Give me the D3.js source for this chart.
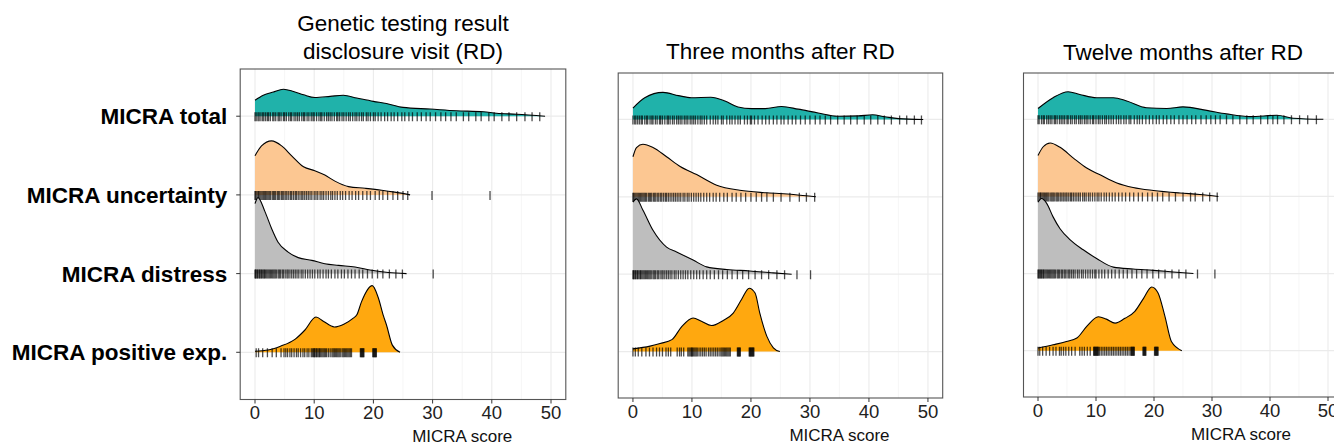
<!DOCTYPE html>
<html>
<head>
<meta charset="utf-8">
<script src="https://cdn.jsdelivr.net/npm/d3@7"></script>
<style>
  html, body { margin: 0; padding: 0; background: #fff; }
  svg { display: block; font-family: "Liberation Sans", Arial, sans-serif; }
</style>
</head>
<body>
<svg id="chart" width="1334" height="445"></svg>
<script>
// ---------------- DATA ----------------
const categories = ["MICRA total", "MICRA uncertainty", "MICRA distress", "MICRA positive exp."];
const panelTitles = [["Genetic testing result", "disclosure visit (RD)"], ["Three months after RD"], ["Twelve months after RD"]];
const xTicks = [0, 10, 20, 30, 40, 50];
const xMinorTicks = [5, 15, 25, 35, 45];
const xAxisTitle = "MICRA score";
const seriesColors = ["#20B2AA", "#FCC792", "#BEBEBE", "#FFA80F"];

// density curves [score, density]
const densRD_total = [[0,0.029],[1.4,0.038],[3.1,0.044],[4.8,0.049],[6.5,0.045],[8.2,0.039],[10.1,0.034],[12.7,0.036],[14.9,0.038],[17.2,0.033],[20,0.027],[22.2,0.023],[25,0.016],[29.6,0.013],[34,0.010],[38.6,0.008],[40.8,0.0055],[44.2,0.0036],[49,0]];
const densRD_uncert = [[0,0.071],[1.1,0.089],[2.8,0.098],[4.5,0.089],[6.2,0.071],[8.2,0.051],[10.1,0.044],[11.8,0.036],[13.5,0.025],[15.8,0.015],[18.6,0.012],[21.4,0.0085],[23.6,0.005],[26.2,0]];
const densRD_distress = [[0,0.127],[0.5,0.138],[1.7,0.112],[2.8,0.082],[3.9,0.057],[5.6,0.039],[7.3,0.029],[9.6,0.024],[11.8,0.018],[14.1,0.015],[16.9,0.012],[19.7,0.006],[22.5,0.002],[25.6,0]];
const densRD_positive = [[0,0.002],[2.2,0.004],[4.3,0.011],[6.8,0.024],[8.4,0.040],[10.3,0.064],[11.6,0.056],[13.4,0.046],[15,0.051],[16.6,0.062],[17.2,0.068],[18,0.092],[19.8,0.121],[20.8,0.10],[21.7,0.066],[22.2,0.05],[23.2,0.013],[24.5,0]];

const dens3M_total = [[0,0.021],[2,0.040],[5.1,0.050],[7.7,0.044],[9.9,0.040],[13.2,0.041],[15.6,0.034],[17.8,0.023],[20.1,0.020],[22.4,0.020],[25.2,0.024],[28,0.019],[31.4,0.012],[34.7,0.006],[38.2,0.0065],[40.6,0.0085],[42.7,0.005],[45,0.0015],[49.2,0]];
const dens3M_uncert = [[0,0.074],[0.6,0.091],[1.7,0.097],[3.4,0.091],[5.7,0.074],[8,0.056],[10.8,0.041],[14.2,0.0215],[18.1,0.012],[22.7,0.0074],[27.2,0.0044],[31,0]];
const dens3M_distress = [[0,0.133],[0.6,0.139],[1.7,0.118],[3.4,0.081],[5.7,0.050],[7.4,0.041],[10.2,0.026],[12.5,0.0135],[15.9,0.0086],[19.8,0.006],[23.8,0.0024],[26.9,0]];
const dens3M_positive = [[0,0.005],[2.9,0.010],[4.6,0.015],[6.6,0.022],[8.3,0.0465],[10.2,0.062],[11.6,0.056],[13.3,0.048],[15.3,0.0575],[17,0.071],[18.4,0.096],[19.7,0.117],[20.7,0.108],[21.5,0.071],[22.7,0.028],[23.8,0.007],[24.9,0]];

const dens12M_total = [[0,0.020],[2.6,0.040],[5.2,0.051],[7.2,0.046],[10.1,0.040],[13,0.040],[15.3,0.034],[18.7,0.0215],[22.2,0.020],[25,0.023],[29.1,0.0165],[32.5,0.010],[36.6,0.005],[41.2,0.0074],[44,0.002],[49.2,0]];
const dens12M_uncert = [[0,0.076],[0.9,0.092],[2.1,0.099],[3.8,0.091],[6.1,0.071],[8.4,0.0525],[10.7,0.040],[13.6,0.025],[16.4,0.0166],[19.9,0.011],[24.5,0.0063],[27.9,0.0037],[31.1,0]];
const dens12M_distress = [[0,0.132],[0.6,0.139],[1.5,0.130],[2.6,0.105],[3.8,0.083],[5.5,0.063],[7.8,0.044],[10.1,0.028],[13,0.012],[16.4,0.0085],[19.9,0.006],[23.3,0.003],[26.8,0]];
const dens12M_positive = [[0,0.005],[2.6,0.011],[4.9,0.017],[6.7,0.0235],[8.4,0.045],[10.4,0.063],[11.8,0.0585],[13.3,0.051],[15,0.060],[16.7,0.073],[18.2,0.097],[19.6,0.118],[20.7,0.107],[21.9,0.063],[23,0.017],[24.8,0]];

// individual scores shown as rug ticks
const rugRD_total = [0,0.2,0.5,0.7,1,1.3,1.5,1.8,2.1,2.3,2.6,3,3.2,3.5,3.9,4.1,4.4,4.8,5,5.3,5.7,6,6.2,6.6,6.9,7.2,7.5,7.9,8.2,8.4,8.8,9.1,9.5,9.8,10,10.4,10.8,11.1,11.3,11.7,12.1,12.4,12.7,13,13.4,13.8,14,14.3,14.7,15,15.4,15.8,16.1,16.5,16.9,17.2,17.6,18,18.3,18.8,19.1,19.5,20,20.3,20.8,21.3,21.9,22.4,23,23.5,24.1,24.8,25.3,26,26.6,27.4,28.1,28.9,29.6,30.5,31.4,32.2,33.1,34,35.2,36.1,37.3,38.2,39.5,40.4,41.7,42.9,44.2,45.6,46.8,48.1];
const rugRD_uncert = [0,0.1,0.3,0.5,0.6,0.8,1,1.2,1.4,1.6,1.8,2,2.2,2.4,2.6,2.9,3.1,3.3,3.5,3.8,4,4.2,4.5,4.7,4.9,5.2,5.4,5.7,6,6.2,6.5,6.8,7,7.3,7.6,7.9,8.1,8.4,8.7,9,9.3,9.6,10,10.3,10.6,11,11.3,11.6,12,12.4,12.8,13.1,13.5,13.9,14.4,14.8,15.3,15.9,16.4,17,17.5,18.2,18.9,19.5,20.3,21,21.6,22.4,23.3,24.1,25,25.8,29.9,39.7];
const rugRD_distress = [0,0.1,0.2,0.4,0.5,0.7,0.8,1,1.1,1.3,1.5,1.6,1.8,2,2.2,2.4,2.6,2.8,3,3.2,3.4,3.6,3.9,4.1,4.3,4.6,4.8,5.1,5.4,5.6,5.9,6.2,6.5,6.8,7.1,7.4,7.8,8.1,8.5,8.9,9.3,9.7,10.1,10.6,11,11.5,12,12.4,12.9,13.5,14,14.6,15.1,15.7,16.3,16.9,17.6,18.2,19,19.8,20.7,21.6,22.7,23.8,24.9,30.1];
const rugRD_positive = [0.2,0.6,1.3,2.1,2.9,3.6,4.4,4.9,5.2,5.5,5.9,6.2,6.6,7,7.3,7.7,8.1,8.4,8.8,9.1,9.5,9.7,9.9,10,10.1,10.3,10.4,10.6,10.8,10.9,11.1,11.3,11.5,11.7,11.9,12.1,12.4,12.7,13,13.2,13.4,13.6,13.8,14,14.2,14.4,14.7,14.9,15.1,15.3,15.5,15.7,15.9,16.1,16.3,17.8,17.9,18,18.1,18.2,18.3,18.4,19.9,20,20.1,20.2,20.3,20.4,20.5];

const rug3M_total = [0,0.3,0.5,0.8,1.1,1.4,1.6,2,2.3,2.5,2.9,3.2,3.4,3.8,4.1,4.5,4.7,5,5.4,5.8,6,6.3,6.7,7,7.4,7.7,8,8.3,8.7,9,9.3,9.7,10,10.3,10.6,11,11.4,11.7,12.1,12.5,13.1,13.6,14,14.4,15,15.3,15.9,16.4,16.8,17.3,17.8,18.2,18.9,19.4,19.9,20.1,20.6,21.2,21.9,22.5,23.1,23.8,24.4,25.1,25.6,26.3,27,27.6,28.4,29.2,30,30.9,31.7,32.6,33.5,34.7,35.8,36.9,38,39.2,40.3,41.5,42.6,43.8,45.2,46.4,47.7,48.9];
const rug3M_uncert = [0,0.1,0.3,0.5,0.7,0.9,1.1,1.3,1.5,1.7,1.9,2.1,2.3,2.6,2.8,3,3.2,3.5,3.7,3.9,4.2,4.4,4.7,4.9,5.2,5.5,5.7,6,6.3,6.6,6.9,7.2,7.5,7.8,8.1,8.5,8.8,9.2,9.5,9.9,10.3,10.7,11.1,11.5,12,12.5,13,13.6,14.1,14.7,15.4,16,16.8,17.5,18.3,19.1,20,20.9,21.8,22.7,23.8,25.1,26.6,28.2,29.4,30.8];
const rug3M_distress = [0,0.1,0.2,0.4,0.5,0.7,0.8,1,1.2,1.3,1.5,1.7,1.9,2.1,2.3,2.5,2.7,2.9,3.1,3.4,3.6,3.8,4.1,4.3,4.6,4.9,5.1,5.4,5.7,6,6.3,6.6,7,7.3,7.7,8.1,8.5,8.9,9.3,9.8,10.3,10.8,11.3,11.9,12.5,13.1,13.8,14.5,15.2,16,16.8,17.7,18.6,19.6,20.7,21.8,23,24.4,25.7,27.8,30.1];
const rug3M_positive = [0,0.4,0.9,1.5,2.2,2.8,3.4,4,4.5,5,5.6,6,6.4,7.5,7.9,8.2,8.6,9.3,9.5,9.7,9.9,10,10.1,10.3,10.5,10.7,10.9,11.2,11.5,11.8,12.1,12.4,12.8,13.1,13.4,13.7,14,14.3,14.6,14.9,15.1,15.3,15.5,15.7,15.9,16.1,16.3,16.5,17.7,17.8,17.9,18,18.1,18.2,19.7,19.8,19.9,20,20.1,20.2,20.3,20.4,20.5];

const rug12M_total = [0,0.2,0.6,0.9,1.1,1.5,1.8,2.1,2.4,2.8,3,3.3,3.7,4,4.3,4.6,5,5.2,5.6,5.9,6.3,6.6,7,7.3,7.6,8,8.3,8.6,9,9.4,9.6,10,10.4,10.7,11.1,11.5,11.8,12.2,12.6,13,13.5,13.9,14.3,14.8,15.2,15.7,16,16.6,17.1,17.5,18,18.6,19.2,19.8,20.4,20.9,21.6,22.2,22.9,23.5,24.3,25,25.7,26.5,27.2,28.1,29,29.8,30.6,31.4,32.5,33.6,34.8,36,37.1,38.4,39.6,40.5,41.3,42.4,43.7,45.1,46.5,48];
const rug12M_uncert = [0,0.2,0.4,0.5,0.7,0.9,1.1,1.3,1.5,1.7,1.9,2.2,2.4,2.6,2.8,3.1,3.3,3.5,3.8,4,4.3,4.5,4.8,5,5.3,5.6,5.8,6.1,6.4,6.7,7,7.3,7.7,8,8.3,8.7,9,9.4,9.8,10.2,10.5,10.9,11.4,11.8,12.3,12.8,13.3,13.9,14.5,15.1,15.8,16.5,17.3,18,18.9,19.7,20.6,21.5,22.6,23.7,25,26.3,27.1,28.4,29.6,30.9];
const rug12M_distress = [0,0.1,0.3,0.4,0.6,0.7,0.9,1,1.2,1.4,1.6,1.8,2,2.2,2.4,2.6,2.8,3,3.3,3.5,3.7,4,4.2,4.5,4.7,5,5.3,5.5,5.8,6.1,6.4,6.8,7.1,7.5,7.8,8.2,8.6,9,9.4,9.8,10,10.5,11,11.5,12.1,12.7,13.3,14,14.7,15.4,16.2,17,17.9,18.8,19.8,20.8,21.9,23.1,24.3,25.5,27.5,30.5];
const rug12M_positive = [0,0.3,0.8,1.4,2,2.6,3.1,3.7,4,4.4,4.8,5.3,5.8,6.4,7.2,7.6,8,8.5,9,9.6,9.7,9.8,9.9,10,10.1,10.2,10.3,10.4,10.6,10.9,11.2,11.5,11.8,12.1,12.4,12.7,13,13.3,13.6,13.9,14.2,14.5,14.8,15.1,15.4,15.7,16,16.1,16.2,16.3,16.4,16.5,16.6,18.1,18.2,18.3,18.4,18.5,18.6,20.1,20.2,20.3,20.4,20.5,20.6,20.7];

// ---------------- LAYOUT ----------------
const panels = [
  { left: 240.2, right: 565.8, top: 69, bottom: 399.5, titleY: [31, 59], yAxis: true,
    dens: [densRD_total, densRD_uncert, densRD_distress, densRD_positive],
    rugs: [rugRD_total, rugRD_uncert, rugRD_distress, rugRD_positive] },
  { left: 618.2, right: 942.7, top: 73, bottom: 398, titleY: [59], yAxis: false,
    dens: [dens3M_total, dens3M_uncert, dens3M_distress, dens3M_positive],
    rugs: [rug3M_total, rug3M_uncert, rug3M_distress, rug3M_positive] },
  { left: 1023.5, right: 1342.5, top: 73, bottom: 397, titleY: [60], yAxis: false,
    dens: [dens12M_total, dens12M_uncert, dens12M_distress, dens12M_positive],
    rugs: [rug12M_total, rug12M_uncert, rug12M_distress, rug12M_positive] }
];

const svg = d3.select("#chart");

panels.forEach((p, pi) => {
  const g = svg.append("g");
  const x = d3.scaleLinear().domain([-2.5, 52.5]).range([p.left, p.right]);
  const y = d3.scalePoint().domain(categories).range([p.top, p.bottom]).padding(0.6);
  const step = y.step();
  const h = d3.scaleLinear().domain([0, 0.1]).range([0, 0.7 * step]);

  const clipId = "clip" + pi;
  svg.append("clipPath").attr("id", clipId).append("rect")
    .attr("x", p.left).attr("y", p.top).attr("width", p.right - p.left).attr("height", p.bottom - p.top);

  const inner = g.append("g").attr("clip-path", `url(#${clipId})`);

  // grid
  inner.selectAll(".minor").data(xMinorTicks).join("line")
    .attr("x1", d => x(d)).attr("x2", d => x(d)).attr("y1", p.top).attr("y2", p.bottom)
    .attr("stroke", "#F2F2F2").attr("stroke-width", 0.7);
  inner.selectAll(".major").data(xTicks).join("line")
    .attr("x1", d => x(d)).attr("x2", d => x(d)).attr("y1", p.top).attr("y2", p.bottom)
    .attr("stroke", "#EBEBEB").attr("stroke-width", 1.1);
  inner.selectAll(".hgrid").data(categories).join("line")
    .attr("x1", p.left).attr("x2", p.right).attr("y1", d => y(d)).attr("y2", d => y(d))
    .attr("stroke", "#EBEBEB").attr("stroke-width", 1.3);

  // ridges
  categories.forEach((cat, ci) => {
    const base = y(cat);
    const data = p.dens[ci];
    const area = d3.area().x(d => x(d[0])).y0(base).y1(d => base - h(d[1])).curve(d3.curveMonotoneX);
    const line = d3.line().x(d => x(d[0])).y(d => base - h(d[1])).curve(d3.curveMonotoneX);
    inner.append("path").attr("d", area(data)).attr("fill", seriesColors[ci]);
    inner.append("path").attr("d", line(data)).attr("fill", "none")
      .attr("stroke", "#000").attr("stroke-width", 1.1);
    inner.append("g").selectAll("line").data(p.rugs[ci]).join("line")
      .attr("x1", d => x(d)).attr("x2", d => x(d))
      .attr("y1", base - 4).attr("y2", base + 5)
      .attr("stroke", "#000").attr("stroke-opacity", 0.7).attr("stroke-width", 1.3);
  });

  // border
  g.append("rect").attr("x", p.left).attr("y", p.top)
    .attr("width", p.right - p.left).attr("height", p.bottom - p.top)
    .attr("fill", "none").attr("stroke", "#555").attr("stroke-width", 1.1);

  // x axis ticks + labels
  g.selectAll(".xt").data(xTicks).join("line")
    .attr("x1", d => x(d)).attr("x2", d => x(d)).attr("y1", p.bottom).attr("y2", p.bottom + 4)
    .attr("stroke", "#333").attr("stroke-width", 1);
  g.selectAll(".xl").data(xTicks).join("text")
    .attr("x", d => x(d)).attr("y", p.bottom + 19.5)
    .attr("text-anchor", "middle").attr("font-size", 18.5).attr("fill", "#222")
    .text(d => d);
  g.append("text").attr("x", x(35)).attr("y", p.bottom + 42.5)
    .attr("text-anchor", "middle").attr("font-size", 17).attr("fill", "#111")
    .text(xAxisTitle);

  // title
  panelTitles[pi].forEach((t, ti) => {
    g.append("text").attr("x", (p.left + p.right) / 2).attr("y", p.titleY[ti])
      .attr("text-anchor", "middle").attr("font-size", 22.5).attr("fill", "#000").text(t);
  });

  // y axis
  if (p.yAxis) {
    g.selectAll(".yt").data(categories).join("line")
      .attr("x1", p.left - 4).attr("x2", p.left).attr("y1", d => y(d)).attr("y2", d => y(d))
      .attr("stroke", "#333").attr("stroke-width", 1);
    g.selectAll(".yl").data(categories).join("text")
      .attr("x", p.left - 13).attr("y", d => y(d) + 8)
      .attr("text-anchor", "end").attr("font-size", 22.5).attr("font-weight", "bold").attr("fill", "#000")
      .text(d => d);
  }
});
</script>
</body>
</html>
